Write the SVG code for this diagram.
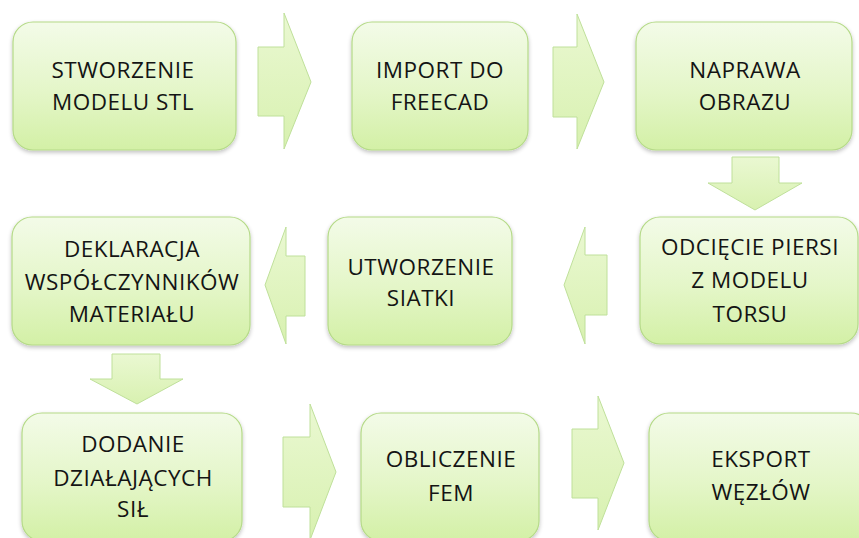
<svg xmlns="http://www.w3.org/2000/svg" width="859" height="538" viewBox="0 0 859 538">
  <defs>
    <linearGradient id="boxFill" x1="0" y1="0" x2="0" y2="1">
      <stop offset="0" stop-color="#f3fbe8"/>
      <stop offset="0.55" stop-color="#e4f6c8"/>
      <stop offset="1" stop-color="#d3f0a6"/>
    </linearGradient>
    <linearGradient id="arrowFill" x1="0" y1="0" x2="0" y2="1">
      <stop offset="0" stop-color="#eaf8d2"/>
      <stop offset="1" stop-color="#d8f1b0"/>
    </linearGradient>
    <filter id="shadow" x="-10%" y="-10%" width="120%" height="125%">
      <feGaussianBlur in="SourceAlpha" stdDeviation="2"/>
      <feOffset dx="0" dy="2" result="b"/>
      <feComponentTransfer><feFuncA type="linear" slope="0.25"/></feComponentTransfer>
      <feMerge><feMergeNode/><feMergeNode in="SourceGraphic"/></feMerge>
    </filter>
  </defs>
  <style>
    .box { fill: url(#boxFill); stroke: #b5da88; stroke-width: 1.2; filter: url(#shadow); }
    .arrow { fill: url(#arrowFill); stroke: #bfe09a; stroke-width: 1; }
    .label { font-family: "Open Sans", Lato, "Liberation Sans", sans-serif; font-size: 22.5px; letter-spacing: 0.5px; fill: #141414; text-anchor: middle; }
  </style>
  <rect width="859" height="538" fill="#ffffff"/>

  <!-- step boxes -->
  <g id="stworzenie">
    <rect class="box" x="13" y="22" width="223" height="128" rx="20"/>
    <text class="label" x="123" y="78">STWORZENIE</text>
    <text class="label" x="123" y="110">MODELU STL</text>
  </g>
  <g id="import">
    <rect class="box" x="352" y="22" width="176" height="128" rx="20"/>
    <text class="label" x="440" y="78">IMPORT DO</text>
    <text class="label" x="440" y="110">FREECAD</text>
  </g>
  <g id="naprawa">
    <rect class="box" x="636" y="22" width="216" height="128" rx="20"/>
    <text class="label" x="745" y="78">NAPRAWA</text>
    <text class="label" x="745" y="110">OBRAZU</text>
  </g>
  <g id="odciecie">
    <rect class="box" x="640" y="217" width="218" height="127" rx="20"/>
    <text class="label" x="750" y="255">ODCIĘCIE PIERSI</text>
    <text class="label" x="750" y="288">Z MODELU</text>
    <text class="label" x="750" y="322">TORSU</text>
  </g>
  <g id="siatka">
    <rect class="box" x="328" y="217" width="184" height="128" rx="20"/>
    <text class="label" x="421" y="275">UTWORZENIE</text>
    <text class="label" x="421" y="306">SIATKI</text>
  </g>
  <g id="deklaracja">
    <rect class="box" x="12" y="217" width="238" height="128" rx="20"/>
    <text class="label" x="132" y="257">DEKLARACJA</text>
    <text class="label" x="132" y="290">WSPÓŁCZYNNIKÓW</text>
    <text class="label" x="132" y="322">MATERIAŁU</text>
  </g>
  <g id="dodanie">
    <rect class="box" x="22" y="413" width="220" height="128" rx="20"/>
    <text class="label" x="133" y="452">DODANIE</text>
    <text class="label" x="133" y="486">DZIAŁAJĄCYCH</text>
    <text class="label" x="133" y="517">SIŁ</text>
  </g>
  <g id="obliczenie">
    <rect class="box" x="361" y="413" width="178" height="128" rx="20"/>
    <text class="label" x="451" y="467">OBLICZENIE</text>
    <text class="label" x="451" y="501">FEM</text>
  </g>
  <g id="eksport">
    <rect class="box" x="649" y="413" width="222" height="128" rx="20"/>
    <text class="label" x="761" y="467">EKSPORT</text>
    <text class="label" x="761" y="500">WĘZŁÓW</text>
  </g>

  <!-- block arrows between steps -->
  <g id="connectors">
    <polygon class="arrow" points="258,47 284,47 284,13 311,82 284,149 284,116 258,116"/>
    <polygon class="arrow" points="553,47 577,47 577,14 604,82 577,149 577,117 553,117"/>
    <polygon class="arrow" points="732,157 779,157 779,183 802,183 755,210 708,183 732,183"/>
    <polygon class="arrow" points="607,255 585,255 585,227 564,285 585,344 585,315 607,315"/>
    <polygon class="arrow" points="305,256 286,256 286,227 265,285 286,344 286,316 305,316"/>
    <polygon class="arrow" points="112,354 160,354 160,379 183,379 137,404 90,379 112,379"/>
    <polygon class="arrow" points="283,437 310,437 310,404 336,472 310,540 310,507 283,507"/>
    <polygon class="arrow" points="572,429 598,429 598,396 624,463 598,530 598,498 572,498"/>
  </g>
</svg>
